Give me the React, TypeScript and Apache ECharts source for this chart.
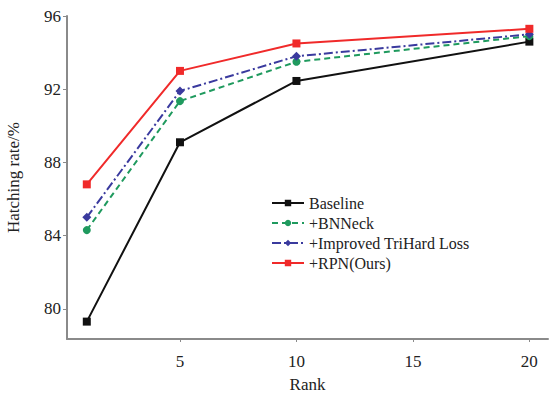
import React, { useEffect, useRef } from "react";
import * as echarts from "echarts";

const ranks = [1, 5, 10, 20];
const seriesNames = ["Baseline", "+BNNeck", "+Improved TriHard Loss", "+RPN(Ours)"];
const baseline = [79.3, 89.1, 92.45, 94.6];
const bnneck = [84.3, 91.35, 93.5, 94.9];
const improved = [85.0, 91.9, 93.8, 95.0];
const rpn = [86.8, 93.0, 94.5, 95.3];
const xTicks = [5, 10, 15, 20];
const yTicks = [80, 84, 88, 92, 96];

const FONT = "'Liberation Serif', 'DejaVu Serif', serif";

export default function App() {
  const ref = useRef<HTMLDivElement>(null);
  useEffect(() => {
    if (!ref.current) return;
    const chart = echarts.init(ref.current, undefined, { renderer: "svg" });
    const mk = (vals: number[]) => ranks.map((r, i) => [r, vals[i]]);
    const styles = [
      { color: "#111111", type: "solid", symbol: "rect", size: 8 },
      { color: "#1f9a5e", type: [6, 4], symbol: "circle", size: 8 },
      { color: "#3a3a9e", type: [9, 3, 2, 3], symbol: "diamond", size: 9 },
      { color: "#f02a2a", type: "solid", symbol: "rect", size: 8 },
    ];
    const data = [baseline, bnneck, improved, rpn];
    chart.setOption({
      animation: false,
      backgroundColor: "#ffffff",
      grid: {
        left: 67,
        top: 16,
        right: 2,
        bottom: 55,
        containLabel: false,
        outerBoundsMode: "none",
      },
      legend: {
        left: 266,
        top: 190,
        orient: "vertical",
        itemWidth: 32,
        itemHeight: 8,
        itemGap: 4,
        textStyle: { fontFamily: FONT, fontSize: 16, color: "#222" },
        data: seriesNames,
      },
      xAxis: {
        type: "value",
        min: 0.15,
        max: 20.8,
        name: "Rank",
        nameLocation: "middle",
        nameGap: 37,
        nameTextStyle: { fontFamily: FONT, fontSize: 17, color: "#222" },
        axisLine: { show: true, lineStyle: { color: "#8a8a8a", width: 2 } },
        axisTick: { show: true, length: 3, customValues: xTicks, lineStyle: { color: "#8a8a8a" } },
        axisLabel: {
          customValues: xTicks,
          fontFamily: FONT,
          fontSize: 17,
          color: "#222",
          margin: 14,
        },
        splitLine: { show: false },
      },
      yAxis: {
        type: "value",
        min: 78.35,
        max: 96,
        name: "Hatching rate/%",
        nameLocation: "middle",
        nameGap: 45,
        nameTextStyle: { fontFamily: FONT, fontSize: 17, color: "#222" },
        axisLine: { show: true, lineStyle: { color: "#8a8a8a", width: 2 } },
        axisTick: { show: true, length: 4, customValues: yTicks, lineStyle: { color: "#8a8a8a" } },
        axisLabel: {
          customValues: yTicks,
          fontFamily: FONT,
          fontSize: 17,
          color: "#222",
          margin: 6,
        },
        splitLine: { show: false },
      },
      series: seriesNames.map((name, i) => ({
        name,
        type: "line",
        data: mk(data[i]),
        symbol: styles[i].symbol,
        symbolSize: styles[i].size,
        showSymbol: true,
        itemStyle: { color: styles[i].color },
        lineStyle: { color: styles[i].color, width: 2, type: styles[i].type },
        z: 2 + i,
      })),
    });
    return () => chart.dispose();
  }, []);
  return (
    <div
      ref={ref}
      style={{ position: "absolute", left: 0, top: 0, width: 550, height: 394 }}
    />
  );
}
